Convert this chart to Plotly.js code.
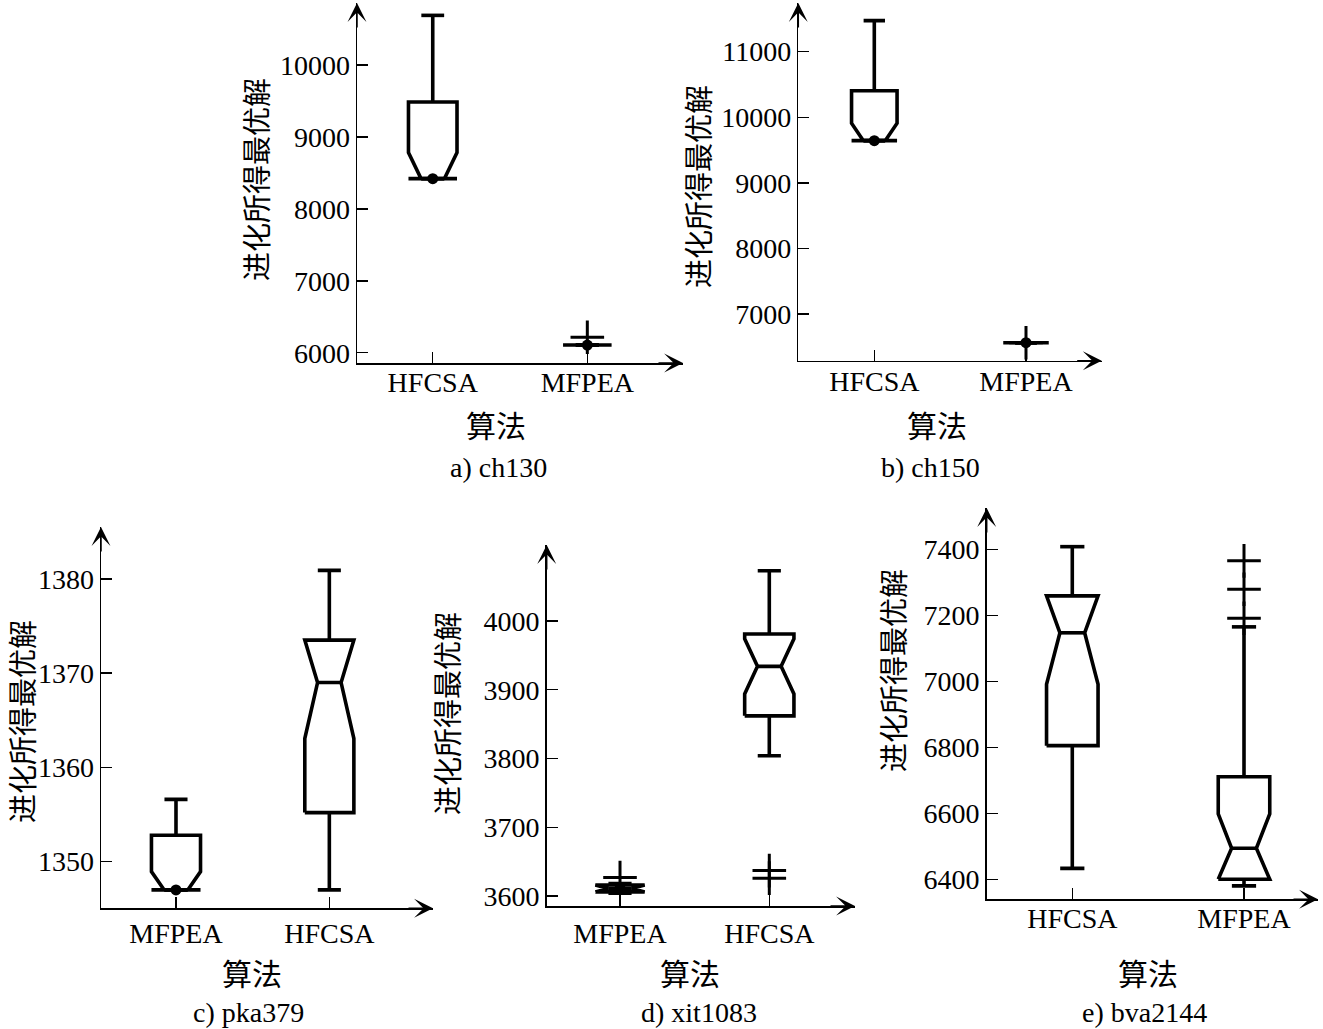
<!DOCTYPE html>
<html><head><meta charset="utf-8">
<script src="https://cdn.plot.ly/plotly-3.0.1.min.js"></script>
<style>html,body{margin:0;padding:0;background:#fff}</style>
</head><body><div id="chart" style="width:1323px;height:1029px"></div>
<script>
// ---------------- data ----------------
// a) ch130
const catsA = ['HFCSA', 'MFPEA'];
const q1A = [8420, 6107], medA = [8420, 6107], q3A = [9486, 6107];
const lowA = [8420, 6107], highA = [10690, 6107], notchA = [362, 0];
const outA = [[], [6214]], dotA = [[8420], [6107]];
const ticksA = [6000, 7000, 8000, 9000, 10000];
// b) ch150
const catsB = ['HFCSA', 'MFPEA'];
const q1B = [9643, 6562], medB = [9643, 6562], q3B = [10405, 6562];
const lowB = [9643, 6562], highB = [11473, 6562], notchB = [265, 0];
const outB = [[], [6562]], dotB = [[9643], [6562]];
const ticksB = [7000, 8000, 9000, 10000, 11000];
// c) pka379
const catsC = ['MFPEA', 'HFCSA'];
const q1C = [1347.0, 1355.2], medC = [1347.0, 1369.0], q3C = [1352.8, 1373.5];
const lowC = [1347.0, 1347.0], highC = [1356.6, 1380.9], notchC = [1.94, 5.94];
const outC = [[], []], dotC = [[1347.0], []];
const ticksC = [1350, 1360, 1370, 1380];
// d) xit1083
const catsD = ['MFPEA', 'HFCSA'];
const q1D = [3606, 3862], medD = [3611, 3934], q3D = [3616, 3981];
const lowD = [3604, 3804], highD = [3618, 4073], notchD = [15, 40];
const outD = [[3627], [3637, 3626]], dotD = [[3611], []];
const ticksD = [3600, 3700, 3800, 3900, 4000];
// e) bva2144
const catsE = ['HFCSA', 'MFPEA'];
const q1E = [6805, 6400], medE = [7147, 6494], q3E = [7259, 6711];
const lowE = [6433, 6380], highE = [7408, 7165], notchE = [156, 104];
const outE = [[], [7191, 7279, 7365]], dotE = [[], []];
const ticksE = [6400, 6600, 6800, 7000, 7200, 7400];

const captions = ['a) ch130', 'b) ch150', 'c) pka379', 'd) xit1083', 'e) bva2144'];
const xTitle = '算法';
const yTitle = '进化所得最优解';

const panels = [
  {cats: catsA, q1: q1A, med: medA, q3: q3A, low: lowA, high: highA, notch: notchA, out: outA, dot: dotA, ticks: ticksA},
  {cats: catsB, q1: q1B, med: medB, q3: q3B, low: lowB, high: highB, notch: notchB, out: outB, dot: dotB, ticks: ticksB},
  {cats: catsC, q1: q1C, med: medC, q3: q3C, low: lowC, high: highC, notch: notchC, out: outC, dot: dotC, ticks: ticksC},
  {cats: catsD, q1: q1D, med: medD, q3: q3D, low: lowD, high: highD, notch: notchD, out: outD, dot: dotD, ticks: ticksD},
  {cats: catsE, q1: q1E, med: medE, q3: q3E, low: lowE, high: highE, notch: notchE, out: outE, dot: dotE, ticks: ticksE}
];

// ---------------- layout geometry (pixels) & styles ----------------
const W = 1323, H = 1029;
const frames = [
  {l: 357,   r: 683,    t: 3,   b: 363,   yr: [5857, 10862],   xr: [-0.490, 1.619], half: 0.157, xso: -6,
   ytl: [255, 180], xtl: [496, 424], cap: [498, 467]},
  {l: 798.3, r: 1101.7, t: 3,   b: 360.7, yr: [6288, 11742],   xr: [-0.501, 1.499], half: 0.150, xso: -5,
   ytl: [697, 187], xtl: [937, 424], cap: [930, 467]},
  {l: 101,   r: 433,    t: 527, b: 908.3, yr: [1345.05, 1385.5], xr: [-0.489, 1.676], half: 0.160, xso: 0,
   ytl: [21, 722], xtl: [252, 972], cap: [248, 1012]},
  {l: 546.7, r: 855,    t: 545, b: 906,   yr: [3585.5, 4110.5], xr: [-0.491, 1.574], half: 0.165, xso: 2,
   ytl: [446, 713], xtl: [690, 972], cap: [699, 1012]},
  {l: 986.7, r: 1318,   t: 508, b: 899.3, yr: [6339.4, 7525.2], xr: [-0.4985, 1.431], half: 0.150, xso: -6,
   ytl: [892, 670], xtl: [1148, 972], cap: [1144, 1012]}
];
const NOTCH = 0.48;       // notch waist as fraction of box half-width
const CAP = 0.47;         // whisker cap half-width fraction
const LW = 3.6;           // box line width
const LATIN = 'Liberation Serif, Times New Roman, serif';
const CJK = 'Noto Sans CJK SC, sans-serif';

const traces = [];
const layout = {
  width: W, height: H, autosize: false,
  margin: {l: 0, r: 0, t: 0, b: 0, pad: 0},
  paper_bgcolor: '#fff', plot_bgcolor: 'rgba(0,0,0,0)',
  showlegend: false, hovermode: false,
  annotations: []
};

panels.forEach((p, i) => {
  const f = frames[i];
  const k = i === 0 ? '' : String(i + 1);
  const xa = 'x' + k, ya = 'y' + k;
  const half = f.half, nh = half * NOTCH, ch = half * CAP;
  const bx = [], by = [];   // box outlines + medians
  const wx = [], wy = [];   // whiskers
  p.cats.forEach((c, j) => {
    const q1 = p.q1[j], q3 = p.q3[j], med = p.med[j];
    const ln = Math.max(q1, med - p.notch[j]);
    const un = Math.min(q3, med + p.notch[j]);
    bx.push(j - half, j - half, j - nh, j - half, j - half, j + half, j + half, j + nh, j + half, j + half, j - half, null,
            j - nh, j + nh, null);
    by.push(q1, ln, med, un, q3, q3, un, med, ln, q1, q1, null, med, med, null);
    wx.push(j, j, null, j - ch, j + ch, null, j, j, null, j - ch, j + ch, null);
    wy.push(q3, p.high[j], null, p.high[j], p.high[j], null, q1, p.low[j], null, p.low[j], p.low[j], null);
  });
  traces.push({type: 'scatter', mode: 'lines', xaxis: xa, yaxis: ya, x: wx, y: wy,
    line: {color: '#000', width: LW}, connectgaps: false, hoverinfo: 'skip'});
  traces.push({type: 'scatter', mode: 'lines', xaxis: xa, yaxis: ya, x: bx, y: by,
    line: {color: '#000', width: LW}, connectgaps: false, hoverinfo: 'skip'});
  // outliers
  const ox = [], oy = [];
  p.out.forEach((arr, j) => arr.forEach(v => { ox.push(j); oy.push(v); }));
  if (ox.length) traces.push({type: 'scatter', mode: 'markers', xaxis: xa, yaxis: ya, x: ox, y: oy,
    marker: {symbol: 'cross-thin-open', size: 24, color: '#000', line: {color: '#000', width: 3}}, hoverinfo: 'skip'});
  // dots
  const dx = [], dy = [];
  p.dot.forEach((arr, j) => arr.forEach(v => { dx.push(j); dy.push(v); }));
  if (dx.length) traces.push({type: 'scatter', mode: 'markers', xaxis: xa, yaxis: ya, x: dx, y: dy,
    marker: {symbol: 'circle', size: 11, color: '#000'}, hoverinfo: 'skip'});

  layout['xaxis' + k] = {
    domain: [f.l / W, f.r / W], anchor: ya, range: f.xr,
    tickmode: 'array', tickvals: p.cats.map((c, j) => j), ticktext: p.cats,
    ticks: 'inside', ticklen: 11, tickwidth: 1.5, tickcolor: '#000', ticklabelstandoff: f.xso,
    showline: true, linecolor: '#000', linewidth: 1.5, showgrid: false, zeroline: false,
    tickfont: {family: LATIN, size: 28, color: '#000'}, fixedrange: true
  };
  layout['yaxis' + k] = {
    domain: [1 - f.b / H, 1 - f.t / H], anchor: xa, range: f.yr,
    tickmode: 'array', tickvals: p.ticks, ticktext: p.ticks.map(String),
    ticks: 'inside', ticklen: 11, tickwidth: 1.5, tickcolor: '#000',
    showline: true, linecolor: '#000', linewidth: 1.5, showgrid: false, zeroline: false,
    tickfont: {family: LATIN, size: 28, color: '#000'}, fixedrange: true
  };
  // arrowheads
  layout.annotations.push({xref: 'paper', yref: 'paper', x: f.r / W, y: 1 - f.b / H, ax: -26, ay: 0,
    text: '', showarrow: true, arrowhead: 3, arrowsize: 2.1, arrowwidth: 1.5, arrowcolor: '#000'});
  layout.annotations.push({xref: 'paper', yref: 'paper', x: f.l / W, y: 1 - f.t / H, ax: 0, ay: 26,
    text: '', showarrow: true, arrowhead: 3, arrowsize: 2.1, arrowwidth: 1.5, arrowcolor: '#000'});
  // titles
  layout.annotations.push({xref: 'paper', yref: 'paper', x: f.ytl[0] / W, y: 1 - f.ytl[1] / H,
    xanchor: 'center', yanchor: 'middle', textangle: -90, showarrow: false, text: yTitle,
    font: {family: CJK, size: 29, color: '#000'}});
  layout.annotations.push({xref: 'paper', yref: 'paper', x: f.xtl[0] / W, y: 1 - f.xtl[1] / H,
    xanchor: 'center', yanchor: 'middle', showarrow: false, text: xTitle,
    font: {family: CJK, size: 30, color: '#000'}});
  layout.annotations.push({xref: 'paper', yref: 'paper', x: f.cap[0] / W, y: 1 - f.cap[1] / H,
    xanchor: 'center', yanchor: 'middle', showarrow: false, text: captions[i],
    font: {family: LATIN, size: 28, color: '#000'}});
});

Plotly.newPlot('chart', traces, layout, {staticPlot: true, displayModeBar: false});
</script>
</body></html>
